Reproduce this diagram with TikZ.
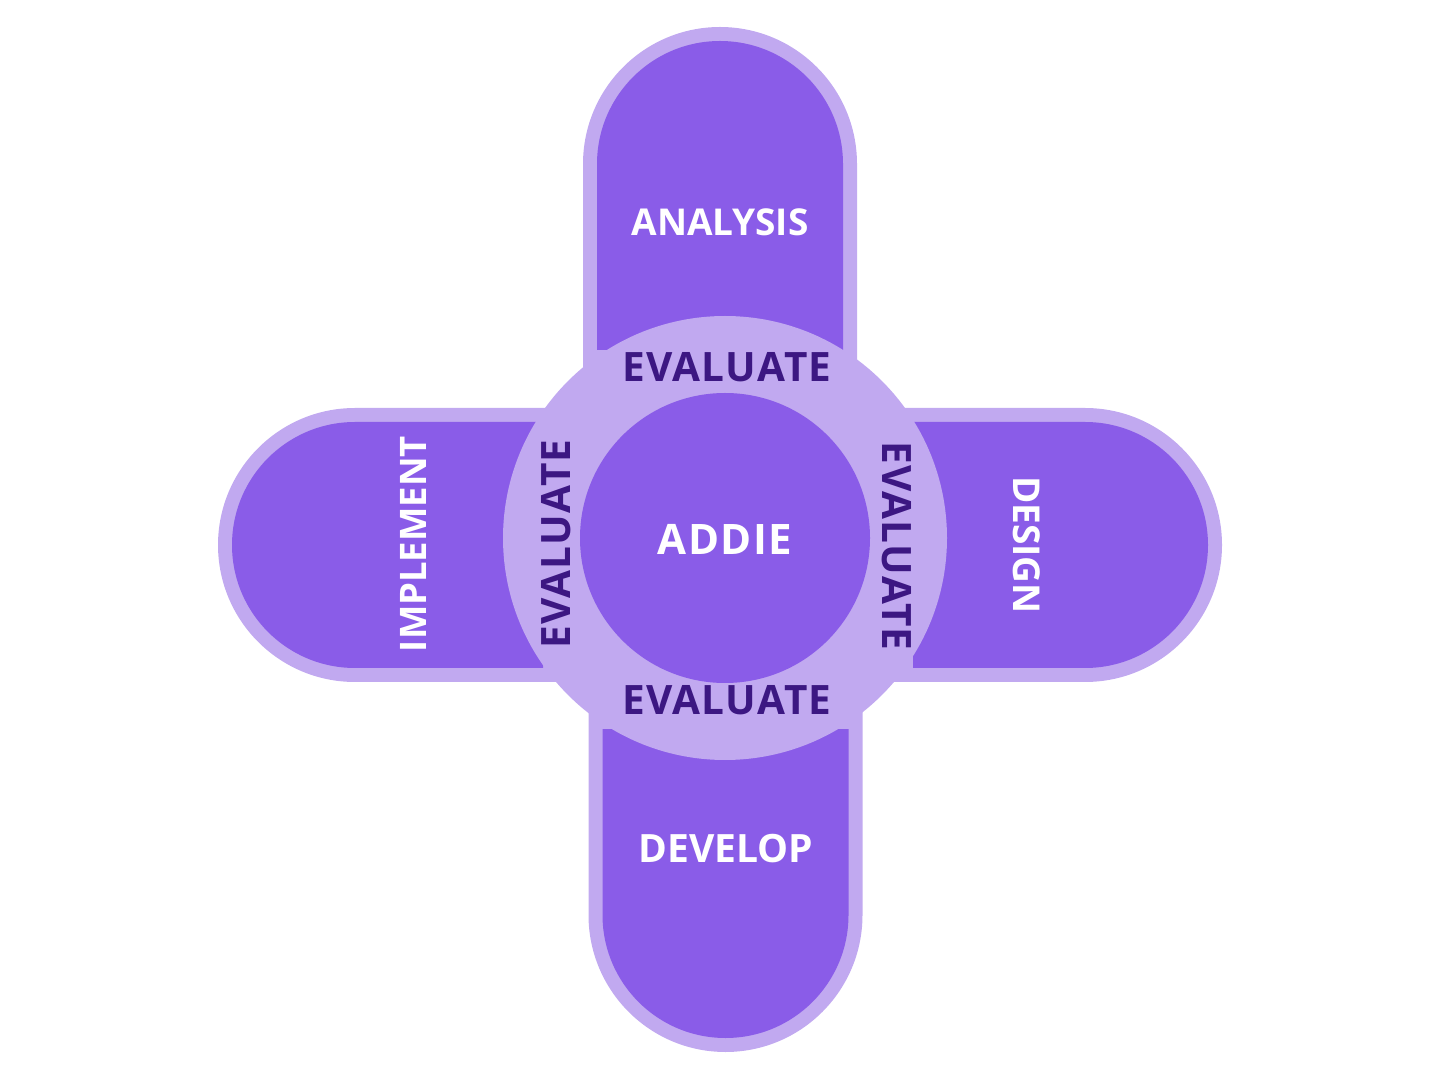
\documentclass[tikz,border=0pt]{standalone}
\usepackage{fontspec}
\setmainfont{Open Sans}
\definecolor{cviolet}{HTML}{8A5CE8}
\definecolor{clilac}{HTML}{C1A9F0}
\definecolor{cink}{HTML}{3C1782}
\tikzset{
  every picture/.style={x=1pt, y=1pt},
  rim/.style={fill=clilac},
  core/.style={fill=cviolet},
  phase/.style={font=\bfseries\fontsize{37}{40}\selectfont, text=white, inner sep=0pt},
  evalnote/.style={font=\bfseries\fontsize{40.5}{44}\selectfont\addfontfeature{LetterSpace=3.5}, text=cink, inner sep=0pt},
}

\begin{document}
\begin{tikzpicture}
  \useasboundingbox (0,0) rectangle (1440,1080);
  % pills: outer rim, then violet core
  \fill[rim] (583,680) -- (583,916) arc (180:0:137) -- (857,680) -- cycle;
  \fill[core] (597,730) -- (597,916) arc (180:0:123) -- (843,730) -- cycle;
  \fill[rim] (880,672) -- (1085,672) arc (90:-90:137) -- (880,398) -- cycle;
  \fill[core] (913,658) -- (1085,658) arc (90:-90:123) -- (913,412) -- cycle;
  \fill[rim] (588.5,400) -- (588.5,165) arc (180:360:137) -- (862.5,400) -- cycle;
  \fill[core] (602.5,351) -- (602.5,165) arc (180:360:123) -- (848.5,351) -- cycle;
  \fill[rim] (570,672) -- (355,672) arc (90:270:137) -- (570,398) -- cycle;
  \fill[core] (543,658) -- (355,658) arc (90:270:123) -- (543,412) -- cycle;
  % centre ring
  \fill[rim] (725,542) circle (222);
  \fill[core] (725,542) circle (145);
  \node[phase, font=\bfseries\fontsize{42}{46}\selectfont\addfontfeature{LetterSpace=3.5}] (addie) at (725,541) {ADDIE};
  \node[phase] (analysis) at (720,858) {ANALYSIS};
  \node[phase, rotate=-90] (design) at (1027,535) {DESIGN};
  \node[phase, font=\bfseries\fontsize{39}{42}\selectfont] (develop) at (726,231) {DEVELOP};
  \node[phase, font=\bfseries\fontsize{36.5}{40}\selectfont, rotate=90] (implement) at (413,536) {IMPLEMENT};
  \node[evalnote] (evaltop) at (727,713) {EVALUATE};
  \node[evalnote] (evalbot) at (727,380) {EVALUATE};
  \node[evalnote, rotate=90] (evalleft) at (556,536) {EVALUATE};
  \node[evalnote, rotate=-90] (evalright) at (897,534) {EVALUATE};
\end{tikzpicture}
\end{document}
